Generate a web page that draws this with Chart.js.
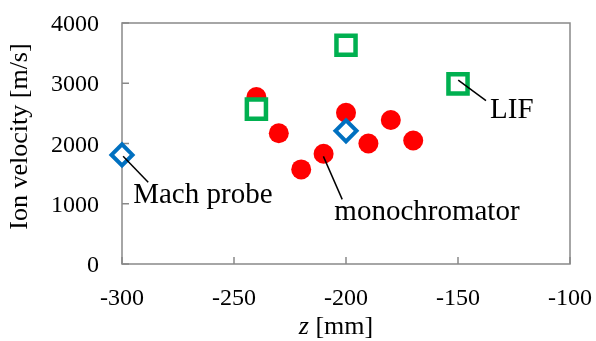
<!DOCTYPE html>
<html>
<head>
<meta charset="utf-8">
<script src="https://cdn.jsdelivr.net/npm/chart.js@4/dist/chart.umd.min.js"></script>
<style>
  html, body { margin: 0; padding: 0; background: #fff; }
  canvas { display: block; }
</style>
</head>
<body>
<canvas id="c" width="596" height="341"></canvas>
<script>
// ---- data ----
const monoZ   = [-240, -230, -220, -210, -200, -190, -180, -170];
const monoV   = [2770, 2170, 1570, 1830, 2510, 2000, 2390, 2050];
const lifZ    = [-240, -200, -150];
const lifV    = [2570, 3630, 2990];
const machZ   = [-300, -200];
const machV   = [1810, 2210];
const xTicks  = [-300, -250, -200, -150, -100];
const yTicks  = [0, 1000, 2000, 3000, 4000];
const xTitleItalic = 'z';
const xTitleRest = ' [mm]';
const yTitle = 'Ion velocity [m/s]';

// annotation labels: text, leader line (data space) and text anchor (data space)
const labels = [
  { text: 'Mach probe',    line: [[-299.5, 1790], [-288.3, 1358]], at: [-295, 1018] },
  { text: 'monochromator', line: [[-210.1, 1787], [-201.7, 1073]], at: [-205.2, 726] },
  { text: 'LIF',           line: [[-149.9, 3053], [-137.5, 2711]], at: [-135.7, 2421] }
];

const toPts = (xs, ys) => xs.map((v, i) => ({ x: v, y: ys[i] }));
const SERIF = '"Liberation Serif", "Times New Roman", serif';

const decor = {
  id: 'decor',
  beforeDatasetsDraw(chart) {
    const { ctx, chartArea: a, scales: { x, y } } = chart;
    ctx.save();
    ctx.strokeStyle = '#898989';
    ctx.lineWidth = 1.5;
    ctx.strokeRect(a.left, a.top, a.right - a.left, a.bottom - a.top);
    ctx.beginPath();
    x.ticks.forEach(t => {
      const px = x.getPixelForValue(t.value);
      ctx.moveTo(px, a.bottom); ctx.lineTo(px, a.bottom - 7);
    });
    y.ticks.forEach(t => {
      const py = y.getPixelForValue(t.value);
      ctx.moveTo(a.left, py); ctx.lineTo(a.left + 7, py);
    });
    ctx.stroke();

    // tick labels
    ctx.fillStyle = '#000';
    ctx.font = '24px ' + SERIF;
    ctx.textBaseline = 'alphabetic';
    ctx.textAlign = 'center';
    x.ticks.forEach(t => {
      ctx.fillText(String(t.value), x.getPixelForValue(t.value), a.bottom + 40.5);
    });
    ctx.textAlign = 'right';
    y.ticks.forEach(t => {
      ctx.fillText(String(t.value), a.left - 23, y.getPixelForValue(t.value) + 8.2);
    });
    ctx.restore();
  },
  afterDraw(chart) {
    const { ctx, chartArea: a, scales: { x, y } } = chart;
    ctx.save();
    // leader lines + labels
    ctx.strokeStyle = '#000';
    ctx.lineWidth = 1.5;
    ctx.fillStyle = '#000';
    ctx.font = '29px ' + SERIF;
    ctx.textAlign = 'left';
    ctx.textBaseline = 'alphabetic';
    labels.forEach(l => {
      ctx.beginPath();
      ctx.moveTo(x.getPixelForValue(l.line[0][0]), y.getPixelForValue(l.line[0][1]));
      ctx.lineTo(x.getPixelForValue(l.line[1][0]), y.getPixelForValue(l.line[1][1]));
      ctx.stroke();
      ctx.fillText(l.text, x.getPixelForValue(l.at[0]), y.getPixelForValue(l.at[1]));
    });
    // y title
    ctx.save();
    ctx.translate(20, (a.top + a.bottom) / 2 - 7);
    ctx.rotate(-Math.PI / 2);
    ctx.font = '26px ' + SERIF;
    ctx.textAlign = 'center';
    ctx.textBaseline = 'middle';
    ctx.fillText(yTitle, 0, 0);
    ctx.restore();
    // x title
    ctx.font = 'italic 26px ' + SERIF;
    const w1 = ctx.measureText(xTitleItalic).width;
    ctx.font = '26px ' + SERIF;
    const w2 = ctx.measureText(xTitleRest).width;
    const cx = (a.left + a.right) / 2 - 10;
    const sx = cx - (w1 + w2) / 2;
    ctx.textAlign = 'left';
    ctx.textBaseline = 'alphabetic';
    ctx.font = 'italic 26px ' + SERIF;
    ctx.fillText(xTitleItalic, sx, 334);
    ctx.font = '26px ' + SERIF;
    ctx.fillText(xTitleRest, sx + w1, 334);
    ctx.restore();
  }
};

new Chart(document.getElementById('c'), {
  type: 'scatter',
  data: {
    datasets: [
      {
        label: 'monochromator', data: toPts(monoZ, monoV), order: 3, clip: false,
        pointStyle: 'circle', pointRadius: 10, pointHoverRadius: 10,
        backgroundColor: '#FF0000', borderColor: '#FF0000', borderWidth: 0
      },
      {
        label: 'LIF', data: toPts(lifZ, lifV), order: 2, clip: false,
        pointStyle: 'rect', pointRadius: 13.5, pointHoverRadius: 13.5,
        backgroundColor: '#FFFFFF', borderColor: '#00B050', borderWidth: 4.5
      },
      {
        label: 'Mach probe', data: toPts(machZ, machV), order: 1, clip: false,
        pointStyle: 'rectRot', pointRadius: 10.5, pointHoverRadius: 10.5,
        backgroundColor: '#FFFFFF', borderColor: '#0070C0', borderWidth: 4
      }
    ]
  },
  options: {
    responsive: false,
    animation: false,
    events: [],
    layout: { padding: { top: 23, right: 26, left: 0, bottom: 0 } },
    plugins: { legend: { display: false }, tooltip: { enabled: false } },
    scales: {
      x: {
        type: 'linear', min: -300, max: -100,
        afterBuildTicks: s => { s.ticks = xTicks.map(v => ({ value: v })); },
        afterFit: s => { s.height = 77; },
        grid: { display: false, drawTicks: false },
        border: { display: false },
        ticks: { display: false }
      },
      y: {
        type: 'linear', min: 0, max: 4000,
        afterBuildTicks: s => { s.ticks = yTicks.map(v => ({ value: v })); },
        afterFit: s => { s.width = 122; },
        grid: { display: false, drawTicks: false },
        border: { display: false },
        ticks: { display: false }
      }
    }
  },
  plugins: [decor]
});
</script>
</body>
</html>
